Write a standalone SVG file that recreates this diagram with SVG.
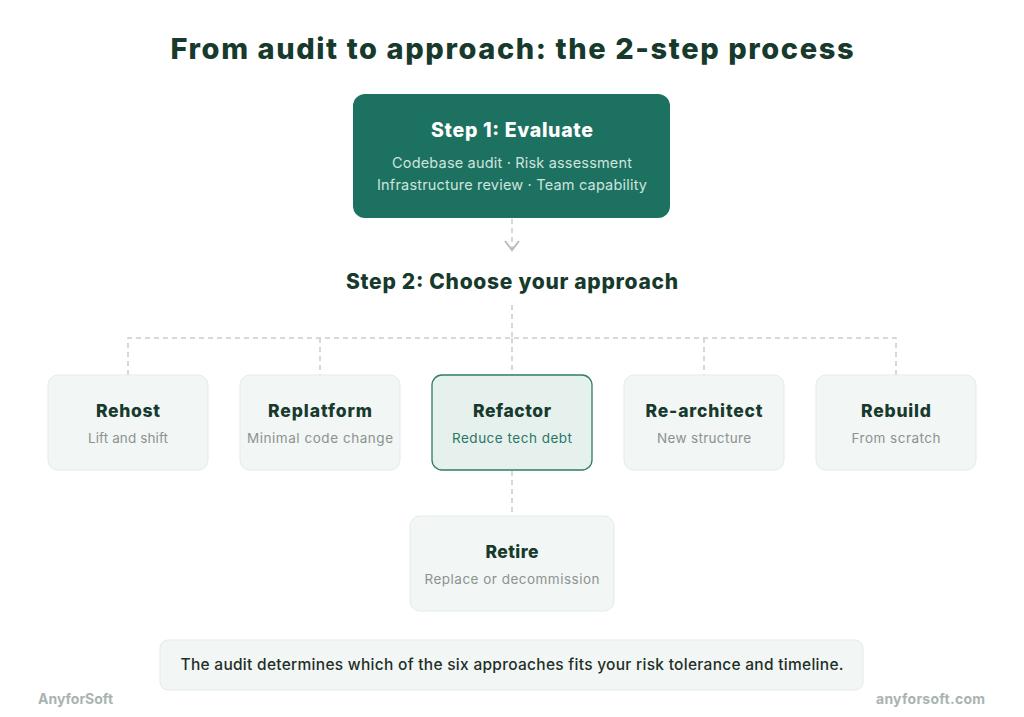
<svg xmlns="http://www.w3.org/2000/svg" width="1024" height="717" viewBox="0 0 1024 717">
<defs>
<style>
text{font-family:Inter,"Open Sans","Liberation Sans",sans-serif;text-anchor:middle}
.title{font-size:29px;font-weight:800;fill:#173a2c}
.h2{font-size:21px;font-weight:800;fill:#173a2c}
.nt{font-size:17.5px;font-weight:800;fill:#173a2c}
.ns{font-size:13.5px;fill:#8c9390}
.card{fill:#f2f6f5;stroke:#e2ebe8;stroke-width:1}
.conn{fill:none;stroke:#c9cdcb;stroke-width:1.5;stroke-dasharray:5 4}
.brand{font-size:14px;font-weight:700;fill:#a9b4af}
</style>
<marker id="chev" viewBox="0 0 12 16" refX="10" refY="8" markerWidth="12" markerHeight="16" markerUnits="userSpaceOnUse" orient="auto">
<path d="M1,1 L10,8 L1,15" fill="none" stroke="#b9bebc" stroke-width="2"/>
</marker>
</defs>
<rect width="1024" height="717" fill="#ffffff"/>
<text class="title" x="512" y="59" textLength="683" lengthAdjust="spacing">From audit to approach: the 2-step process</text>

<g id="connectors">
<path class="conn" d="M512,219 V250" marker-end="url(#chev)"/>
<path class="conn" d="M512,305 V338"/>
<path class="conn" d="M128,375 V338 H896 V375"/>
<path class="conn" d="M320,338 V375"/>
<path class="conn" d="M704,338 V375"/>
<path class="conn" d="M512,338 V375"/>
<path class="conn" d="M512,471 V516"/>
</g>

<g id="step1">
<rect x="353" y="94" width="317" height="124" rx="12" fill="#1d7161"/>
<text x="512" y="137" style="font-size:19.5px;font-weight:800;fill:#ffffff" textLength="162" lengthAdjust="spacing">Step 1: Evaluate</text>
<text x="512" y="168" style="font-size:14.5px;fill:#cde4dd" textLength="240" lengthAdjust="spacing">Codebase audit · Risk assessment</text>
<text x="512" y="190" style="font-size:14.5px;fill:#cde4dd" textLength="270" lengthAdjust="spacing">Infrastructure review · Team capability</text>
</g>

<g id="step2">
<text class="h2" x="512" y="289" textLength="332" lengthAdjust="spacing">Step 2: Choose your approach</text>
</g>

<g id="rehost">
<rect class="card" x="48" y="375" width="160" height="95" rx="10"/>
<text class="nt" x="128" y="417" textLength="64" lengthAdjust="spacing">Rehost</text>
<text class="ns" x="128" y="443" textLength="80" lengthAdjust="spacing">Lift and shift</text>
</g>
<g id="replatform">
<rect class="card" x="240" y="375" width="160" height="95" rx="10"/>
<text class="nt" x="320" y="417" textLength="104" lengthAdjust="spacing">Replatform</text>
<text class="ns" x="320" y="443" textLength="146" lengthAdjust="spacing">Minimal code change</text>
</g>
<g id="refactor">
<rect x="432" y="375" width="160" height="95" rx="10" fill="#e6f0ed" stroke="#2f7c6a" stroke-width="1.3"/>
<text class="nt" x="512" y="417" textLength="78" lengthAdjust="spacing">Refactor</text>
<text class="ns" x="512" y="443" style="fill:#2a7766" textLength="120" lengthAdjust="spacing">Reduce tech debt</text>
</g>
<g id="rearchitect">
<rect class="card" x="624" y="375" width="160" height="95" rx="10"/>
<text class="nt" x="704" y="417" textLength="117" lengthAdjust="spacing">Re-architect</text>
<text class="ns" x="704" y="443" textLength="94" lengthAdjust="spacing">New structure</text>
</g>
<g id="rebuild">
<rect class="card" x="816" y="375" width="160" height="95" rx="10"/>
<text class="nt" x="896" y="417" textLength="70" lengthAdjust="spacing">Rebuild</text>
<text class="ns" x="896" y="443" textLength="89" lengthAdjust="spacing">From scratch</text>
</g>
<g id="retire">
<rect class="card" x="410" y="516" width="204" height="95" rx="10"/>
<text class="nt" x="512" y="558" textLength="53" lengthAdjust="spacing">Retire</text>
<text class="ns" x="512" y="584" textLength="175" lengthAdjust="spacing">Replace or decommission</text>
</g>

<g id="note">
<rect class="card" x="160" y="640" width="703" height="50" rx="8"/>
<text x="512" y="670" style="font-size:15.5px;font-weight:500;fill:#1f2f28" textLength="663" lengthAdjust="spacing">The audit determines which of the six approaches fits your risk tolerance and timeline.</text>
</g>

<text class="brand" x="38" y="704" style="text-anchor:start">AnyforSoft</text>
<text class="brand" x="985" y="704" style="text-anchor:end" textLength="109" lengthAdjust="spacing">anyforsoft.com</text>
</svg>
